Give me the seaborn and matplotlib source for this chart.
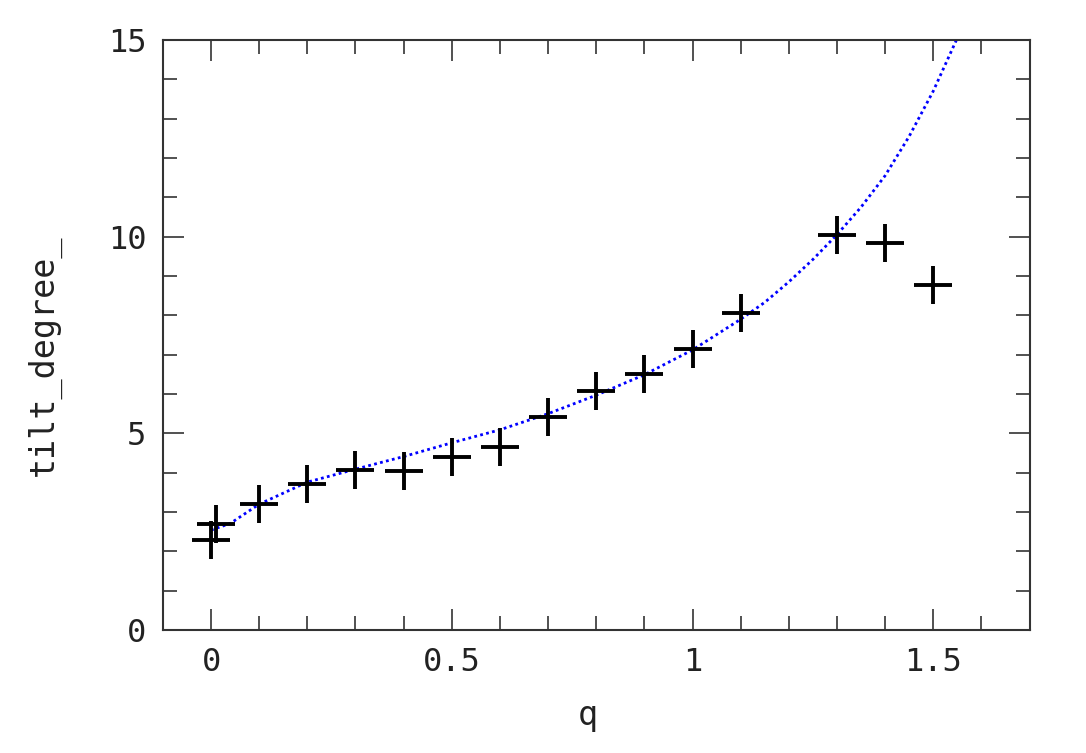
import numpy as np
import pandas as pd
import matplotlib
matplotlib.use('Agg')
import matplotlib.pyplot as plt
import seaborn as sns
from matplotlib.ticker import MultipleLocator

# measured points (crosses)
q_pts = [0.0, 0.01, 0.1, 0.2, 0.3, 0.4, 0.5, 0.6, 0.7, 0.8, 0.9, 1.0, 1.1, 1.3, 1.4, 1.5]
tilt_pts = [2.3, 2.7, 3.2, 3.7, 4.07, 4.05, 4.4, 4.65, 5.42, 6.08, 6.5, 7.14, 8.06, 10.03, 9.83, 8.77]

# fitted curve (dotted blue)
q_fit = [0.0, 0.04, 0.1, 0.2, 0.3, 0.4, 0.5, 0.6, 0.7, 0.8, 0.9, 1.0, 1.1,
         1.15, 1.2, 1.25, 1.3, 1.35, 1.4, 1.45, 1.5, 1.55]
tilt_fit = [2.54, 2.71, 3.2, 3.76, 4.09, 4.41, 4.76, 5.09, 5.5, 5.97, 6.49, 7.12, 7.9,
            8.33, 8.85, 9.42, 10.05, 10.75, 11.55, 12.55, 13.7, 15.05]

pts = pd.DataFrame({'q': q_pts, 'tilt': tilt_pts})
fit = pd.DataFrame({'q': q_fit, 'tilt': tilt_fit})

sns.set_style('ticks')
plt.rcParams['font.family'] = ['DejaVu Sans Mono']

fig = plt.figure(figsize=(10.86, 7.53), dpi=100)
ax = fig.add_axes([0.150, 0.1633, 0.798, 0.7836])

sns.lineplot(data=fit, x='q', y='tilt', ax=ax, color='#0000ff', linewidth=2.0,
             linestyle=(0, (1, 1.2)), sort=False)
sns.scatterplot(data=pts, x='q', y='tilt', ax=ax, marker='+', s=780,
                color='black', linewidth=2.8, zorder=3)

ax.set_xlim(-0.1, 1.7)
ax.set_ylim(0, 15)
ax.xaxis.set_minor_locator(MultipleLocator(0.1))
ax.yaxis.set_minor_locator(MultipleLocator(1))
ax.set_xticks([0, 0.5, 1, 1.5])
ax.set_xticklabels(['0', '0.5', '1', '1.5'])
ax.set_yticks([0, 5, 10, 15])
ax.set_yticklabels(['0', '5', '10', '15'])

for s in ax.spines.values():
    s.set_visible(True)
    s.set_linewidth(1.5)
    s.set_color('#333333')

ax.tick_params(which='both', direction='in', top=True, right=True,
               color='#333333', width=1.2, labelsize=23, labelcolor='#222222')
ax.tick_params(which='major', length=15, pad=12)
ax.tick_params(which='minor', length=10)

ax.set_xlabel('q', fontsize=24, color='#222222', va='center')
ax.xaxis.set_label_coords(0.49, -0.145)
ax.set_ylabel('tilt_degree_', fontsize=24, color='#222222', va='center')
ax.yaxis.set_label_coords(-0.138, 0.466)

fig.savefig('out.png', dpi=100)
